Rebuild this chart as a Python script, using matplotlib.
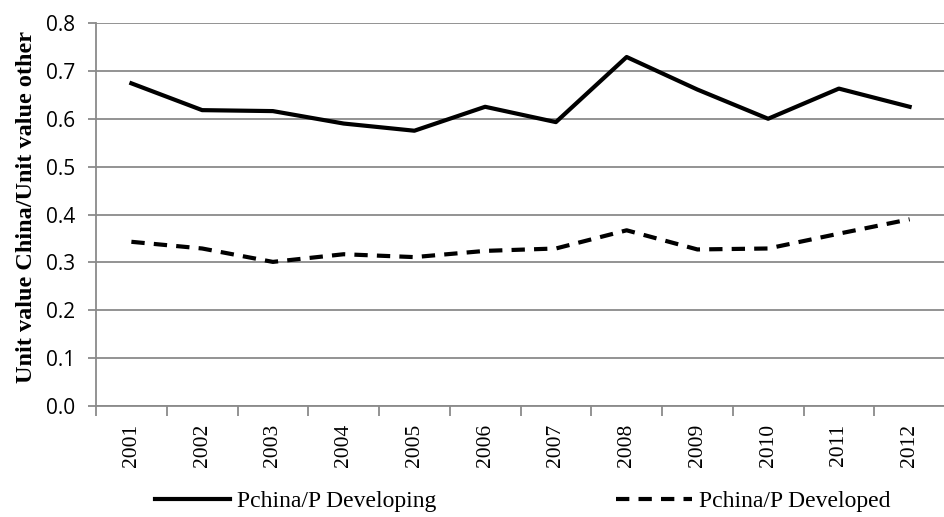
import matplotlib.pyplot as plt
import numpy as np

years = ['2001', '2002', '2003', '2004', '2005', '2006', '2007', '2008',
         '2009', '2010', '2011', '2012']
developing = [0.674, 0.618, 0.616, 0.590, 0.575, 0.625, 0.593, 0.729,
              0.661, 0.600, 0.663, 0.625]
developed = [0.343, 0.329, 0.301, 0.317, 0.311, 0.324, 0.329, 0.367,
             0.327, 0.329, 0.360, 0.390]
yticks = [0.0, 0.1, 0.2, 0.3, 0.4, 0.5, 0.6, 0.7, 0.8]

plt.rcParams['font.family'] = ['Liberation Serif', 'DejaVu Serif']

fig = plt.figure(figsize=(9.45, 5.17), dpi=100)
ax = fig.add_axes([0.1016, 0.2147, 0.8984, 0.7408])

x = np.arange(len(years))
ax.plot(x, developing, color='black', lw=3, label='Pchina/P Developing')
ax.plot(x, developed, color='black', lw=3, dashes=(3.2, 2.2),
        label='Pchina/P Developed')

ax.set_xlim(-0.5, len(years) - 0.5)
ax.set_ylim(0, 0.8)
ax.set_yticks(yticks)
ax.set_yticklabels([f'{v:.1f}' for v in yticks], fontsize=15,
                   family=['Open Sans', 'DejaVu Sans'])
ax.yaxis.grid(True, color='#8a8a8a', lw=1.3)
ax.set_axisbelow(True)

ax.set_xticks(x)
ax.set_xticklabels(years, rotation=90, fontsize=15.5)
ax.set_xticks(np.arange(-0.5, len(years)), minor=True)
ax.tick_params(axis='x', which='major', length=0, pad=13)
ax.tick_params(axis='x', which='minor', length=7, color='#8a8a8a', width=1.3)
ax.tick_params(axis='y', length=6, color='#8a8a8a', width=1.3, pad=9)

for s in ['top', 'right']:
    ax.spines[s].set_visible(False)
for s in ['left', 'bottom']:
    ax.spines[s].set_color('#8a8a8a')
    ax.spines[s].set_linewidth(1.3)

ax.set_ylabel('Unit value China/Unit value other', fontsize=17.5,
              fontweight='bold')
ax.yaxis.set_label_coords(-0.07, 0.52)

fig.legend(loc='center', bbox_to_anchor=(0.553, 0.03), ncol=2,
           frameon=False, fontsize=17, handlelength=3.2, columnspacing=7.6,
           handletextpad=0.3)

fig.savefig('out.png', dpi=100)
